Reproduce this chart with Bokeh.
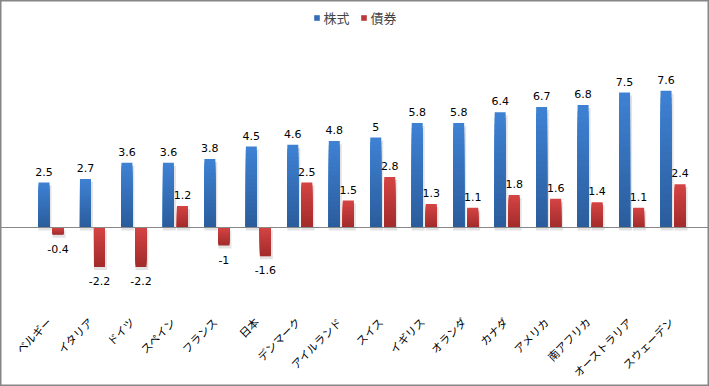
import numpy as np
from bokeh.plotting import figure
from bokeh.models import ColumnDataSource, Span, Legend, LegendItem, Range1d
from bokeh.core.properties import value
from bokeh.embed import file_html
from bokeh.resources import INLINE

countries = ["ベルギー", "イタリア", "ドイツ", "スペイン", "フランス", "日本", "デンマーク",
             "アイルランド", "スイス", "イギリス", "オランダ", "カナダ", "アメリカ",
             "南アフリカ", "オーストラリア", "スウェーデン"]
stocks = [2.5, 2.7, 3.6, 3.6, 3.8, 4.5, 4.6, 4.8, 5, 5.8, 5.8, 6.4, 6.7, 6.8, 7.5, 7.6]
bonds = [-0.4, -2.2, -2.2, 1.2, -1, -1.6, 2.5, 1.5, 2.8, 1.3, 1.1, 1.8, 1.6, 1.4, 1.1, 2.4]
series_names = ["株式", "債券"]

BLUE_LIGHT, BLUE_DARK = (0x3e, 0x82, 0xd4), (0x2b, 0x5c, 0x9b)
RED_LIGHT, RED_DARK = (0xd5, 0x44, 0x44), (0xa2, 0x2b, 0x2b)
N = 20

W_PX, H_PX = 709, 386
CAT_PX = 41.47          # pixels per category
Y_PX = 18.0             # pixels per unit
ZERO_PX = 227           # zero line, from figure top
FIRST_PX = 50.5         # first category centre, from figure left

idx = np.arange(len(countries))

def lerp(c1, c2, t):
    return "#%02x%02x%02x" % tuple(int(round(a + (b - a) * t)) for a, b in zip(c1, c2))

def gradient_source(vals, light, dark, off):
    xs, tops, cols = [], [], []
    for k in range(N):
        f = (N - k) / N
        t = f - 0.5 / N
        for i, v in zip(idx, vals):
            xs.append(i + off)
            tops.append(v * f)
            cols.append(lerp(dark, light, t) if v >= 0 else lerp(light, dark, t))
    return ColumnDataSource(dict(x=xs, top=tops, color=cols))

def shadow_source(vals, off):
    d = 3.0 / Y_PX
    xs, tops, bots = [], [], []
    for i, v in zip(idx, vals):
        xs.append(i + off + 1.0 / CAT_PX)
        if v >= 0:
            tops.append(v - d); bots.append(-d)
        else:
            tops.append(-d); bots.append(v - d)
    return ColumnDataSource(dict(x=xs, top=tops, bottom=bots))

x_start = -FIRST_PX / CAT_PX
x_end = x_start + W_PX / CAT_PX
y_end = ZERO_PX / Y_PX
y_start = -(H_PX - ZERO_PX) / Y_PX

p = figure(x_range=Range1d(x_start, x_end), y_range=Range1d(y_start, y_end),
           width=W_PX, height=H_PX, output_backend="svg", toolbar_location=None,
           min_border=0)
p.outline_line_color = "#868686"
p.outline_line_width = 2
p.xgrid.grid_line_color = None
p.ygrid.grid_line_color = None
p.yaxis.visible = False
p.xaxis.visible = False

OFF, W = 0.169, 0.265

for vals, off in ((stocks, -OFF), (bonds, OFF)):
    p.vbar(x="x", top="top", bottom="bottom", width=W + 2.0 / CAT_PX,
           fill_color="#7f7f7f", fill_alpha=0.22, line_color=None,
           source=shadow_source(vals, off))

src_s = gradient_source(stocks, BLUE_LIGHT, BLUE_DARK, -OFF)
src_b = gradient_source(bonds, RED_LIGHT, RED_DARK, OFF)
r_s = p.vbar(x="x", top="top", bottom=0, width=W, fill_color="color", line_color=None, source=src_s)
r_b = p.vbar(x="x", top="top", bottom=0, width=W, fill_color="color", line_color=None, source=src_b)

p.add_layout(Span(location=0, dimension="width", line_color="#888888", line_width=1))

def label_sources(vals, off):
    pos = dict(x=[], y=[], t=[])
    neg = dict(x=[], y=[], t=[])
    for i, v in zip(idx, vals):
        d = pos if v >= 0 else neg
        d["x"].append(i + off); d["y"].append(v); d["t"].append(f"{v:g}")
    return ColumnDataSource(pos), ColumnDataSource(neg)

for vals, off in ((stocks, -OFF), (bonds, OFF)):
    sp, sn = label_sources(vals, off)
    p.text(x="x", y="y", text="t", source=sp,
           text_align="center", text_baseline="alphabetic", y_offset=-11,
           text_font=value("DejaVu Sans"), text_font_size="11px", text_color="#000000")
    p.text(x="x", y="y", text="t", source=sn,
           text_align="center", text_baseline="top", y_offset=10,
           text_font=value("DejaVu Sans"), text_font_size="11px", text_color="#000000")

# rotated category labels below the bars
cat_src = ColumnDataSource(dict(x=idx, y=[-5.11] * len(countries), t=countries))
p.text(x="x", y="y", text="t", source=cat_src, angle=np.pi / 4,
       text_align="right", text_baseline="middle", x_offset=-2,
       text_font=value("Noto Sans CJK JP"), text_font_size="11px", text_color="#000000")

mid = (N // 2) * len(countries)
legend = Legend(items=[LegendItem(label=series_names[0], renderers=[r_s], index=mid),
                       LegendItem(label=series_names[1], renderers=[r_b], index=mid)],
                orientation="horizontal", location="top_center",
                glyph_width=7, glyph_height=7, label_standoff=4, spacing=10,
                label_text_font="Noto Sans CJK JP", label_text_font_size="13px",
                label_height=14, padding=0, margin=8,
                background_fill_alpha=0, border_line_color=None)
p.add_layout(legend)

open("out.html", "w").write(file_html(p, INLINE))
